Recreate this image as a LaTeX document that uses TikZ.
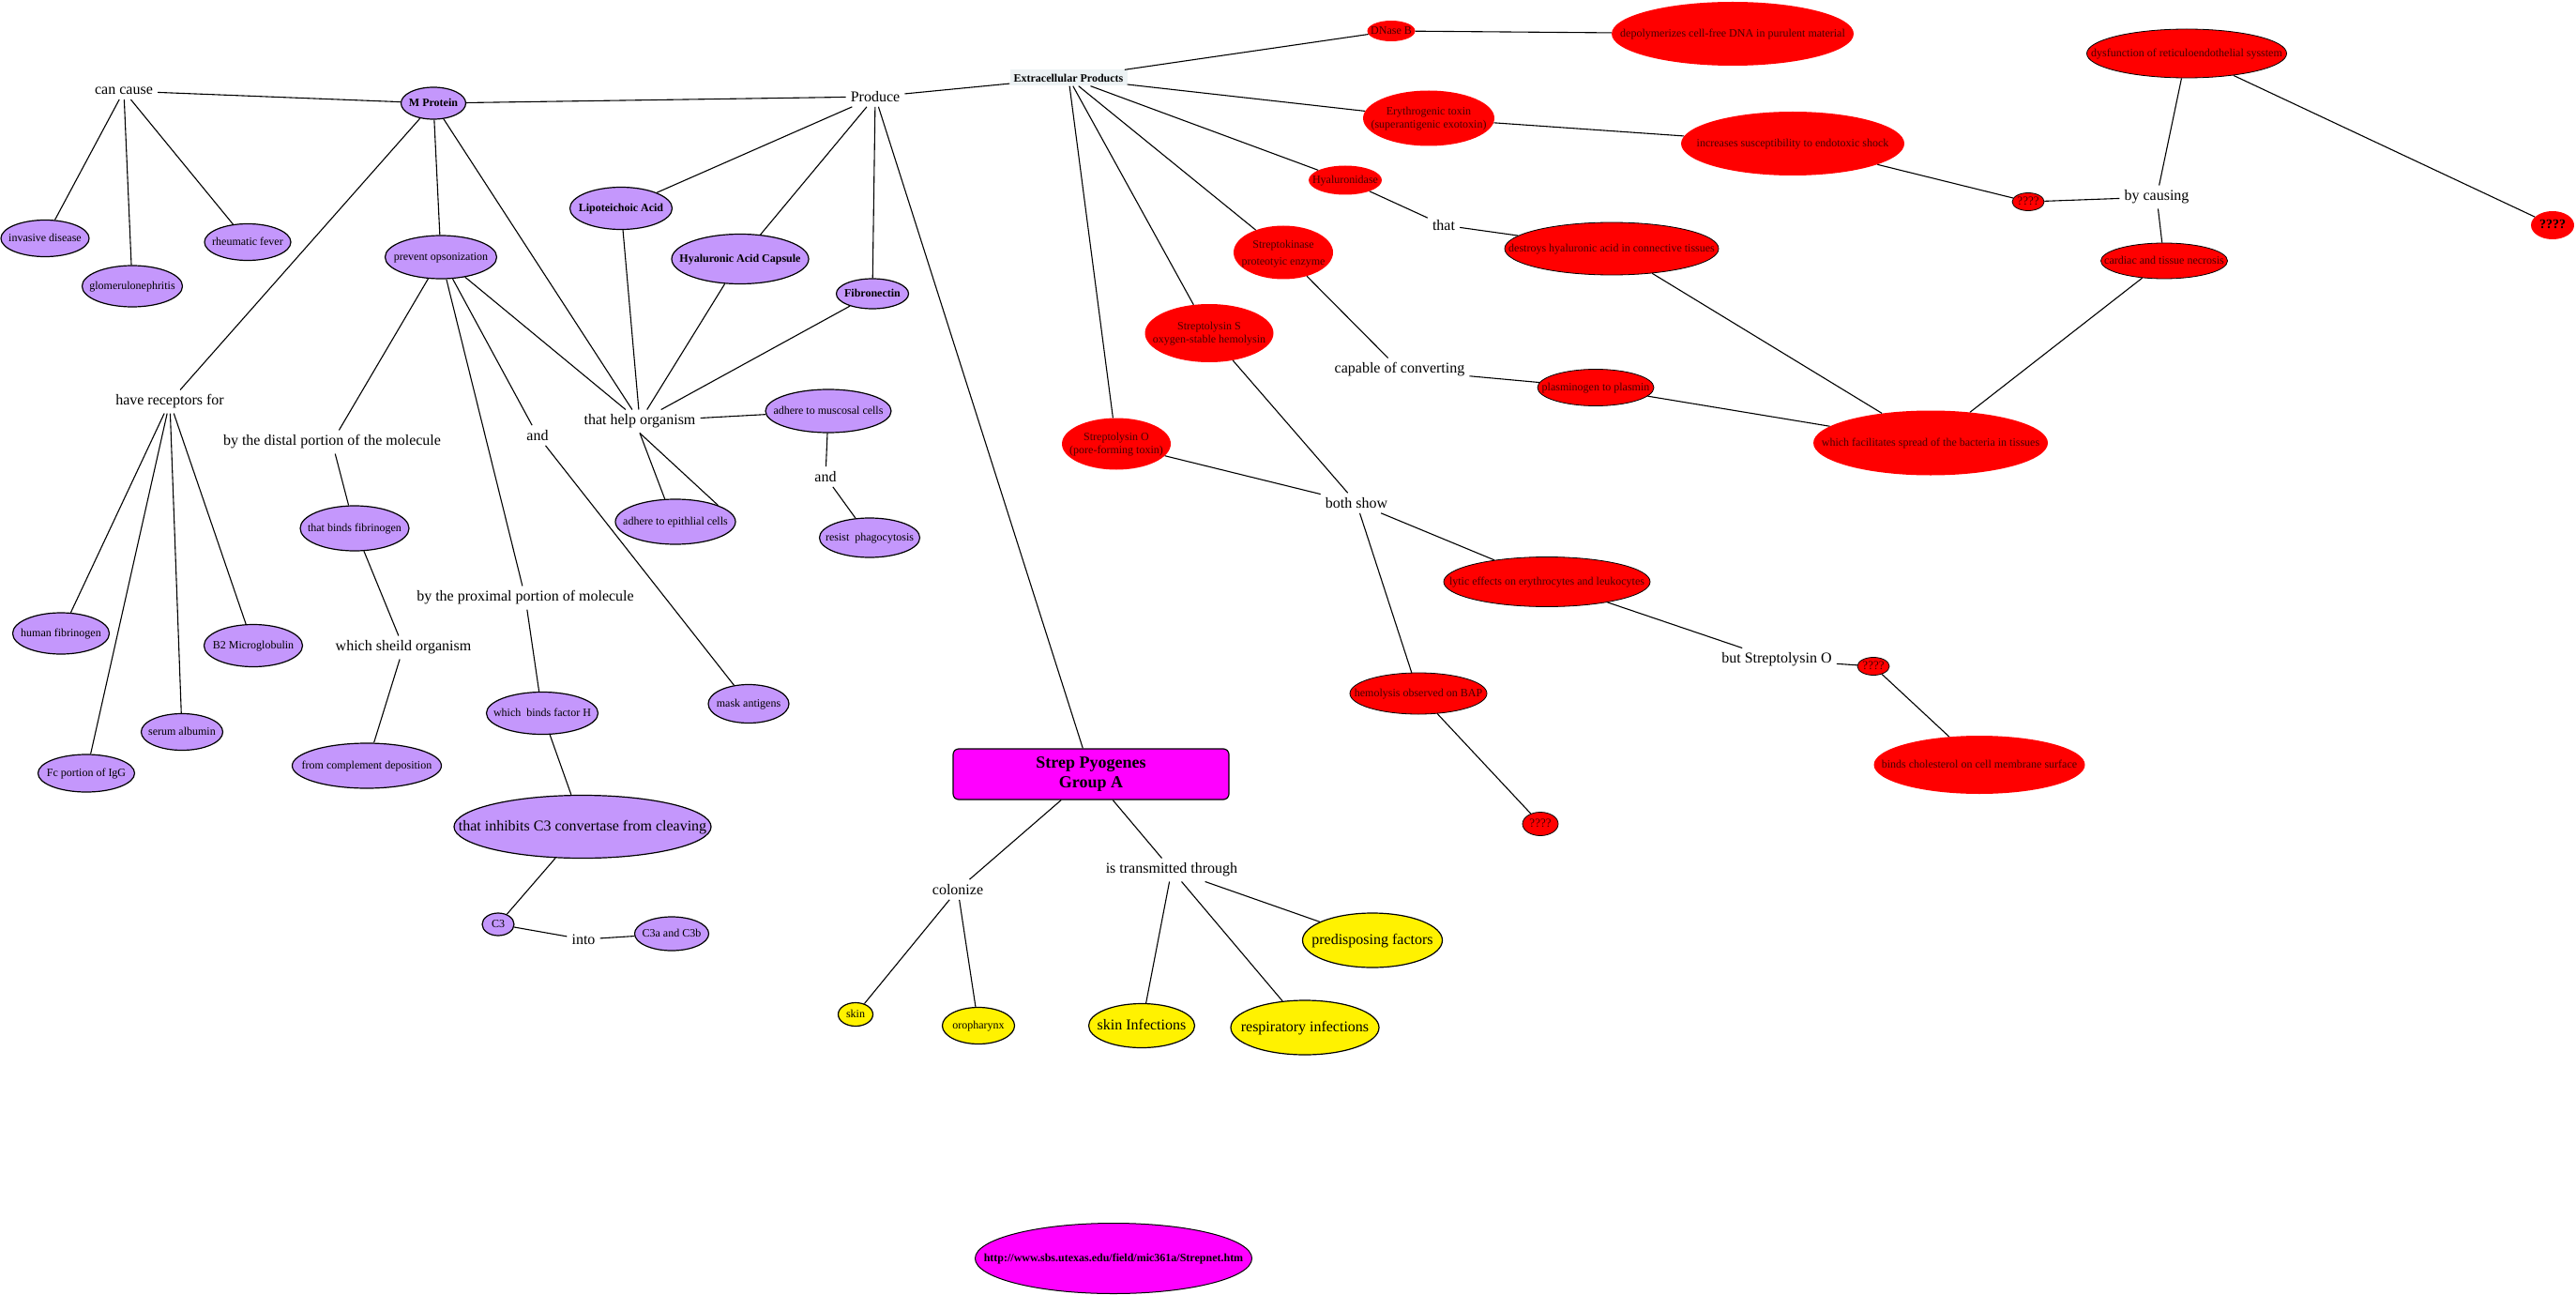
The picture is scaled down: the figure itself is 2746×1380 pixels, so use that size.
\documentclass[tikz,border=0pt]{standalone}
\usepackage{fontspec}
\setmainfont{Liberation Serif}
\usetikzlibrary{shapes.geometric}
\definecolor{purp}{RGB}{196,151,252}
\definecolor{rtext}{RGB}{70,0,0}
\definecolor{extfill}{RGB}{236,242,244}
\definecolor{mag}{RGB}{255,0,255}
\newcommand{\zl}[1]{\makebox[0pt]{\raisebox{-0.3em}[0pt][0pt]{\begin{tabular}{@{}c@{}}#1\end{tabular}}}}
\tikzset{
  sz/.style 2 args={minimum width=#1pt,minimum height=#2pt},
  lbl/.style={inner sep=5pt,font=\fontsize{16}{18}\selectfont,align=center},
  pn/.style={ellipse,draw=black,line width=1.2pt,fill=purp,inner sep=0pt,font=\fontsize{12}{14}\selectfont},
  pbig/.style={pn,font=\fontsize{16}{18}\selectfont},
  rn/.style={ellipse,fill=red,inner sep=0pt,text=rtext,font=\fontsize{12}{14}\selectfont},
  rno/.style={rn,draw=black,line width=0.8pt},
  yn/.style={ellipse,draw=black,line width=1.2pt,fill=yellow,inner sep=0pt,font=\fontsize{12}{14}\selectfont},
  ybig/.style={yn,font=\fontsize{16}{18}\selectfont},
  ln/.style={line width=1.1pt,black},
  extbox/.style={rectangle,fill=extfill,inner sep=0pt,minimum width=125pt,minimum height=17pt,font=\fontsize{12}{14}\selectfont\bfseries},
  strepbox/.style={rectangle,rounded corners=6pt,draw=black,line width=1.2pt,fill=mag,inner sep=0pt,minimum width=294pt,minimum height=54pt,align=center,font=\fontsize{18}{21}\selectfont\bfseries},
  urlnode/.style={ellipse,draw=black,line width=1pt,fill=mag,inner sep=0pt,font=\fontsize{12}{14}\selectfont\bfseries}
}
\begin{document}
\begin{tikzpicture}[x=1pt,y=-1pt]
\useasboundingbox[fill=white] (0,0) rectangle (2746,1380);

% ---------- purple nodes ----------
\node[pn,sz={69}{34}] (MP) at (462,110) {\zl{\textbf{M Protein}}};
\node[pn,sz={94}{39}] (inv) at (48,254) {\zl{invasive disease}};
\node[pn,sz={107}{44}] (glo) at (141,305) {\zl{glomerulonephritis}};
\node[pn,sz={92}{39}] (rhe) at (264,258) {\zl{rheumatic fever}};
\node[pn,sz={109}{45}] (lip) at (662,222) {\zl{\textbf{Lipoteichoic Acid}}};
\node[pn,sz={119}{46}] (opso) at (470,274) {\zl{prevent opsonization}};
\node[pn,sz={146}{53}] (hac) at (789,276) {\zl{\textbf{Hyaluronic Acid Capsule}}};
\node[pn,sz={77}{32}] (fib) at (930,313) {\zl{\textbf{Fibronectin}}};
\node[pn,sz={103}{44}] (hfib) at (65,675) {\zl{human fibrinogen}};
\node[pn,sz={105}{45}] (b2m) at (270,688) {\zl{B2 Microglobulin}};
\node[pn,sz={87}{39}] (alb) at (194,780) {\zl{serum albumin}};
\node[pn,sz={103}{40}] (fc) at (92,824) {\zl{Fc portion of IgG}};
\node[pn,sz={116}{48}] (tbf) at (378,563) {\zl{that binds fibrinogen}};
\node[pn,sz={159}{48}] (fcd) at (391,816) {\zl{from complement deposition}};
\node[pn,sz={119}{45}] (bfh) at (578,760) {\zl{which\ \ binds factor H}};
\node[pn,sz={86}{41}] (mask) at (798,750) {\zl{mask antigens}};
\node[pn,sz={128}{48}] (epi) at (720,556) {\zl{adhere to epithlial cells}};
\node[pn,sz={134}{46}] (muc) at (883,438) {\zl{adhere to muscosal cells}};
\node[pn,sz={107}{42}] (res) at (927,573) {\zl{resist\ \ phagocytosis}};
\node[pbig,sz={274}{67}] (inh) at (621,881) {\zl{that inhibits C3 convertase from cleaving}};
\node[pn,sz={34}{24}] (c3) at (531,985) {\zl{C3}};
\node[pn,sz={79}{36}] (c3ab) at (716,995) {\zl{C3a and C3b}};

% ---------- text labels ----------
\node[lbl] (cc) at (132,97) {can cause};
\node[lbl] (prod) at (933,103) {Produce};
\node[lbl] (hr) at (181,428) {have receptors for};
\node[lbl] (dist) at (354,471) {by the distal portion of the molecule};
\node[lbl] (shd) at (430,690) {which sheild organism};
\node[lbl] (prox) at (560,637) {by the proximal portion of molecule};
\node[lbl] (and1) at (573,464) {and};
\node[lbl] (help) at (682,449) {that help organism};
\node[lbl] (and2) at (880,508) {and};
\node[lbl] (into) at (622,1001) {into};
\node[lbl] (col) at (1021,948) {colonize};
\node[lbl] (trans) at (1249,927) {is transmitted through};
\node[lbl] (that) at (1539,240) {that};
\node[lbl] (cap) at (1492,394) {capable of converting};
\node[lbl] (both) at (1446,536) {both show};
\node[lbl] (butso) at (1894,703) {but Streptolysin O};
\node[lbl] (bycaus) at (2299,210) {by causing};

\node[extbox] (ext) at (1139,83) {Extracellular Products};

% ---------- red nodes ----------
\node[rn,sz={51}{22}] (dnb) at (1483,33) {\zl{DNase B}};
\node[rn,sz={258}{68}] (dep) at (1847,36) {\zl{depolymerizes cell-free DNA in purulent material}};
\node[rn,sz={140}{59}] (ery) at (1523,126) {\zl{Erythrogenic toxin\\(superantigenic exotoxin)}};
\node[rn,sz={238}{68}] (inc) at (1911,153) {\zl{increases susceptibility to endotoxic shock}};
\node[rn,sz={78}{31}] (hyd) at (1434,192) {\zl{Hyaluronidase}};
\node[rno,sz={213}{52}] (dys) at (2331,57) {\zl{dysfunction of reticuloendothelial sysstem}};
\node[rno,sz={34}{19},font=\fontsize{13}{14}\selectfont] (q1) at (2162,215) {\zl{????}};
\node[rn,sz={46}{30},text=black,font=\fontsize{14}{15}\selectfont\bfseries] (q2) at (2721,240) {\zl{????}};
\node[rno,sz={135}{38}] (card) at (2307,278) {\zl{cardiac and tissue necrosis}};
\node[rno,sz={228}{56}] (des) at (1718,265) {\zl{destroys hyaluronic acid in connective tissues}};
\node[rn,sz={106}{57},font=\fontsize{12}{18}\selectfont] (sk) at (1368,269) {\zl{Streptokinase\\proteotyic enzyme}};
\node[rn,sz={137}{62}] (ss) at (1289,355) {\zl{Streptolysin S\\oxygen-stable hemolysin}};
\node[rn,sz={116}{55}] (so) at (1190,473) {\zl{Streptolysin O\\(pore-forming toxin)}};
\node[rno,sz={124}{39}] (pla) at (1701,413) {\zl{plasminogen to plasmin}};
\node[rn,sz={250}{69}] (fac) at (2058,472) {\zl{which facilitates spread of the bacteria in tissues}};
\node[rno,sz={220}{53}] (lyt) at (1649,620) {\zl{lytic effects on erythrocytes and leukocytes}};
\node[rno,sz={146}{44}] (hem) at (1512,739) {\zl{hemolysis observed on BAP}};
\node[rno,sz={38}{25},font=\fontsize{13}{14}\selectfont] (q3) at (1642,878) {\zl{????}};
\node[rno,sz={34}{19},font=\fontsize{13}{14}\selectfont] (q4) at (1997,710) {\zl{????}};
\node[rn,sz={225}{62}] (chol) at (2110,815) {\zl{binds cholesterol on cell membrane surface}};

% ---------- root, yellow, url ----------
\node[strepbox] (strep) at (1163,825) {Strep Pyogenes\\Group A};
\node[yn,sz={37}{25}] (skin) at (912,1081) {\zl{skin}};
\node[yn,sz={77}{39}] (oro) at (1043,1093) {\zl{oropharynx}};
\node[ybig,sz={113}{47}] (skinf) at (1217,1093) {\zl{skin Infections}};
\node[ybig,sz={158}{58}] (resp) at (1391,1095) {\zl{respiratory infections}};
\node[ybig,sz={149}{58}] (pred) at (1463,1002) {\zl{predisposing factors}};
\node[urlnode,sz={295}{75}] (url) at (1187,1341) {\zl{http://www.sbs.utexas.edu/field/mic361a/Strepnet.htm}};

% ---------- connectors ----------
\draw[ln] (cc) -- (MP);
\draw[ln] (cc) -- (inv);
\draw[ln] (cc) -- (glo);
\draw[ln] (cc) -- (rhe);
\draw[ln] (MP) -- (prod);
\draw[ln] (MP) -- (hr);
\draw[ln] (MP) -- (opso);
\draw[ln] (MP) -- (help);
\draw[ln] (prod) -- (ext);
\draw[ln] (prod) -- (lip);
\draw[ln] (prod) -- (hac);
\draw[ln] (prod) -- (fib);
\draw[ln] (prod) -- (strep);
\draw[ln] (hr) -- (hfib);
\draw[ln] (hr) -- (fc);
\draw[ln] (hr) -- (alb);
\draw[ln] (hr) -- (b2m);
\draw[ln] (opso) -- (dist);
\draw[ln] (opso) -- (prox);
\draw[ln] (opso) -- (and1);
\draw[ln] (opso) -- (help);
\draw[ln] (dist) -- (tbf);
\draw[ln] (tbf) -- (shd);
\draw[ln] (shd) -- (fcd);
\draw[ln] (prox) -- (bfh);
\draw[ln] (bfh) -- (inh);
\draw[ln] (inh) -- (c3);
\draw[ln] (c3) -- (into);
\draw[ln] (into) -- (c3ab);
\draw[ln] (and1) -- (mask);
\draw[ln] (lip) -- (help);
\draw[ln] (hac) -- (help);
\draw[ln] (fib) -- (help);
\draw[ln] (help) -- (muc);
\draw[ln] (help.south) -- (epi.115);
\draw[ln] (help.south) -- (epi.21);
\draw[ln] (muc) -- (and2);
\draw[ln] (and2) -- (res);
\draw[ln] (strep) -- (col);
\draw[ln] (strep) -- (trans);
\draw[ln] (col) -- (skin);
\draw[ln] (col) -- (oro);
\draw[ln] (trans) -- (skinf);
\draw[ln] (trans) -- (resp);
\draw[ln] (trans) -- (pred);
\draw[ln] (ext) -- (dnb);
\draw[ln] (ext) -- (ery);
\draw[ln] (ext) -- (hyd);
\draw[ln] (ext) -- (sk);
\draw[ln] (ext) -- (ss);
\draw[ln] (ext) -- (so);
\draw[ln] (dnb) -- (dep);
\draw[ln] (ery) -- (inc);
\draw[ln] (inc) -- (q1);
\draw[ln] (q1) -- (bycaus);
\draw[ln] (bycaus) -- (dys);
\draw[ln] (bycaus) -- (card);
\draw[ln] (dys) -- (q2);
\draw[ln] (hyd) -- (that);
\draw[ln] (that) -- (des);
\draw[ln] (des) -- (fac);
\draw[ln] (sk) -- (cap);
\draw[ln] (cap) -- (pla);
\draw[ln] (pla) -- (fac);
\draw[ln] (fac) -- (card);
\draw[ln] (ss) -- (both);
\draw[ln] (so) -- (both);
\draw[ln] (both) -- (lyt);
\draw[ln] (both) -- (hem);
\draw[ln] (lyt) -- (butso);
\draw[ln] (butso) -- (q4);
\draw[ln] (q4) -- (chol);
\draw[ln] (hem) -- (q3);
\end{tikzpicture}
\end{document}
